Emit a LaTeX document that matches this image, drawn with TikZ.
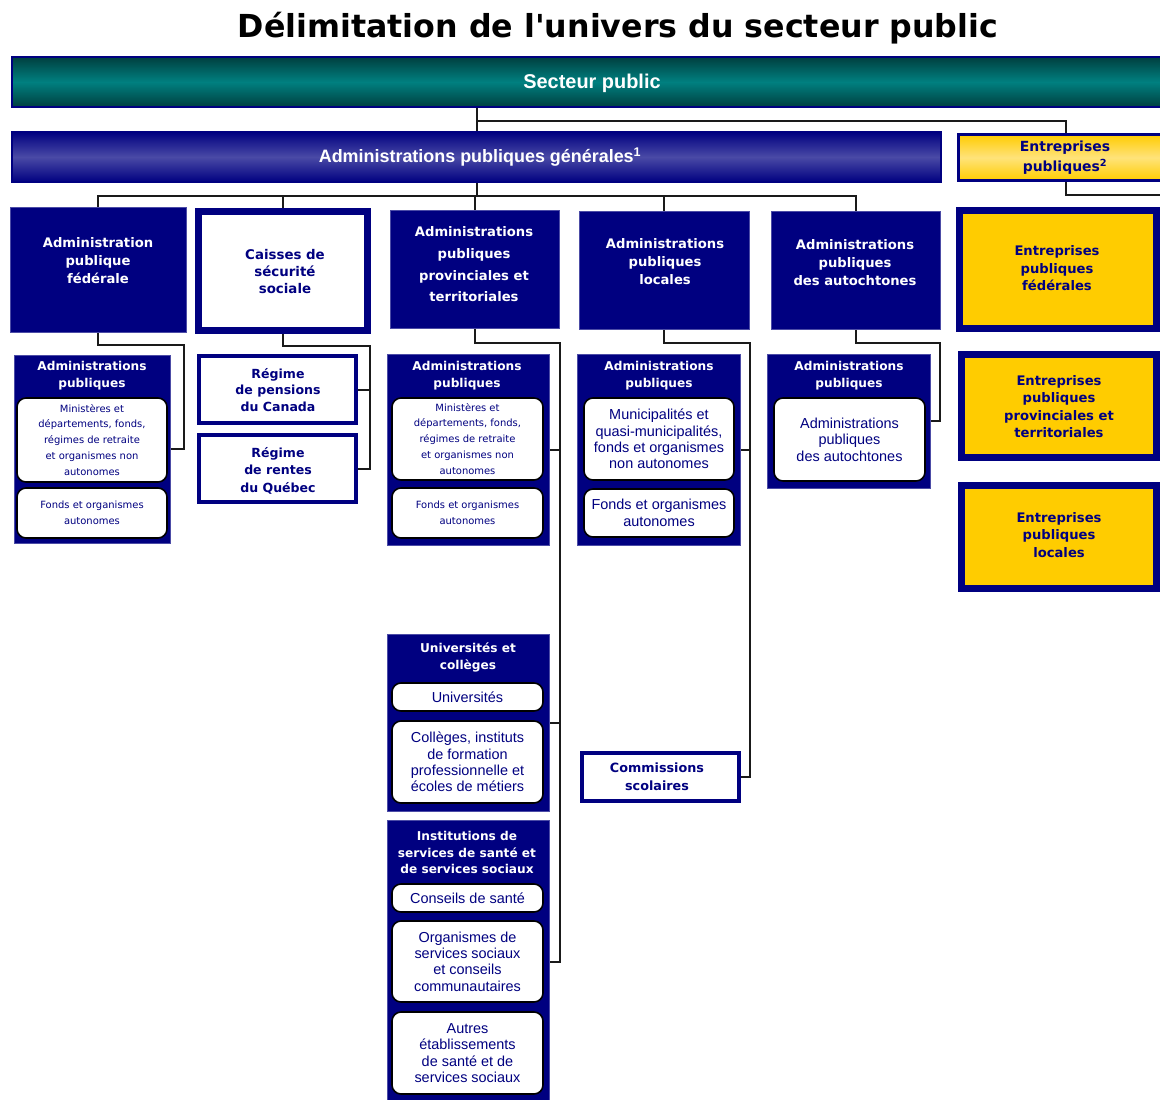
\documentclass[tikz,border=0pt]{standalone}
\usepackage{fontspec}
\setmainfont{Liberation Sans}
\newfontfamily\verd{DejaVu Sans}
\usetikzlibrary{calc,backgrounds}

\definecolor{apnavy}{HTML}{000080}
\definecolor{apteal}{HTML}{008080}
\definecolor{apdeep}{HTML}{003F3F}
\definecolor{apviolet}{HTML}{4A4AA6}
\definecolor{apgold}{HTML}{FFCC00}
\definecolor{aplight}{HTML}{FFE37A}
\definecolor{aprule}{HTML}{1A1A1A}

\tikzset{
  sz/.style 2 args={minimum width=#1bp, minimum height=#2bp, inner sep=0pt},
  bar/.style={draw=apnavy, line width=2bp},
  navybox/.style={draw=apnavy!70!white, line width=0.8bp, fill=apnavy},
  whitebox/.style={draw=apnavy, fill=white},
  goldbox/.style={draw=apnavy, line width=7bp, fill=apgold},
  inbox/.style={draw=black, line width=1.6bp, fill=white, rounded corners=9bp,
    text=apnavy, align=center, inner sep=0pt},
  titre/.style={font=\verd\bfseries\fontsize{31.8}{36}\selectfont},
  bartext/.style={text=white, font=\bfseries\fontsize{18}{22}\selectfont},
  lvtxt/.style={text=white, align=center, font=\verd\bfseries\fontsize{13.2}{18}\selectfont},
  subtxt/.style={text=white, align=center, font=\verd\bfseries\fontsize{12.2}{17}\selectfont},
  nvtxt/.style={text=apnavy, align=center, font=\verd\bfseries\fontsize{13.2}{17.5}\selectfont},
  petit/.style={font=\verd\fontsize{10}{16}\selectfont},
  arialtxt/.style={font=\fontsize{14.5}{16.5}\selectfont},
  conn/.style={draw=aprule, line width=2bp}
}

\begin{document}
\begin{tikzpicture}[x=1bp,y=-1bp]
\useasboundingbox (0,0) rectangle (1160,1100);
\clip (0,0) rectangle (1160,1100);

\node[titre] (titre) at (618,28) {Délimitation de l\textquotesingle univers du secteur public};

% bandeaux du haut
\node[bar, sz={1163}{50}, top color=apdeep, bottom color=apdeep, middle color=apteal] (secteur) at (593.5,82) {};
\node[bartext, font=\bfseries\fontsize{20}{24}\selectfont] (secteurt) at (592,83) {Secteur public};
\node[bar, sz={929}{50}, top color=apnavy, bottom color=apnavy, middle color=apviolet] (apg) at (476.5,157) {};
\node[bartext] (apgt) at (480,157) {Administrations publiques générales\textsuperscript{1}};
\node[draw=apnavy, line width=3bp, sz={215}{46}, top color=apgold, bottom color=apgold, middle color=aplight] (ep) at (1066,157.5) {};
\node[nvtxt, font=\verd\bfseries\fontsize{14}{20}\selectfont] (ept) at (1065,157.5) {Entreprises\\publiques\textsuperscript{2}};

% deuxieme niveau
\node[navybox, sz={176}{125}] (fed) at (98,269.5) {};
\node[lvtxt] (fedt) at (98,261) {Administration\\publique\\fédérale};
\node[whitebox, line width=7bp, sz={169}{119}] (cad) at (283,271) {};
\node[nvtxt, font=\verd\bfseries\fontsize{13.4}{17.5}\selectfont] (cadt) at (285,271.5) {Caisses de\\sécurité\\sociale};
\node[navybox, sz={169}{118}] (prov) at (474.5,269) {};
\node[lvtxt, font=\verd\bfseries\fontsize{13.2}{21.7}\selectfont] (provt) at (474,264.5) {Administrations\\publiques\\provinciales et\\territoriales};
\node[navybox, sz={170}{118}] (loc) at (664,270) {};
\node[lvtxt] (loct) at (665,262) {Administrations\\publiques\\locales};
\node[navybox, sz={169}{118}] (aut) at (855.5,270) {};
\node[lvtxt] (autt) at (855,262.5) {Administrations\\publiques\\des autochtones};

% entreprises publiques
\node[goldbox, sz={197}{118}] (entfed) at (1058,269.5) {};
\node[nvtxt] (entfedt) at (1057,268.5) {Entreprises\\publiques\\fédérales};
\node[goldbox, sz={195}{103}] (entprov) at (1059,406) {};
\node[nvtxt] (entprovt) at (1059,406.5) {Entreprises\\publiques\\provinciales et\\territoriales};
\node[goldbox, sz={195}{103}] (entloc) at (1059,537) {};
\node[nvtxt] (entloct) at (1059,535) {Entreprises\\publiques\\locales};

% federal
\node[navybox, sz={156}{188}] (fedsub) at (92,449) {};
\node[subtxt] (fedsubt) at (92,375.5) {Administrations\\publiques};
\node[inbox, petit, sz={150}{84}] (fedmin) at (92,440) {Ministères et\\départements, fonds,\\régimes de retraite\\et organismes non\\autonomes};
\node[inbox, petit, sz={150}{50}] (fedfonds) at (92,513) {Fonds et organismes\\autonomes};

% caisses
\node[whitebox, line width=4bp, sz={157}{67}] (pen) at (277.5,389.5) {};
\node[nvtxt, font=\verd\bfseries\fontsize{12.6}{17}\selectfont] (pent) at (278,390) {Régime\\de pensions\\du Canada};
\node[whitebox, line width=4bp, sz={157}{67}] (ren) at (277.5,468.5) {};
\node[nvtxt, font=\verd\bfseries\fontsize{12.6}{17.5}\selectfont] (rent) at (278,470.5) {Régime\\de rentes\\du Québec};

% provinciales
\node[navybox, sz={162}{191}] (provsub) at (468,449.5) {};
\node[subtxt] (provsubt) at (467,376) {Administrations\\publiques};
\node[inbox, petit, sz={151}{82}] (provmin) at (467.5,439) {Ministères et\\départements, fonds,\\régimes de retraite\\et organismes non\\autonomes};
\node[inbox, petit, sz={151}{50}] (provfonds) at (467.5,513) {Fonds et organismes\\autonomes};

\node[navybox, sz={162}{177}] (univ) at (468,722.5) {};
\node[subtxt] (univt) at (468,657.5) {Universités et\\collèges};
\node[inbox, arialtxt, sz={151}{28}] (univu) at (467.5,697) {Universités};
\node[inbox, arialtxt, sz={151}{82}] (univc) at (467.5,762) {Collèges, instituts\\de formation\\professionnelle et\\écoles de métiers};

\node[navybox, sz={162}{284}] (inst) at (468,962) {};
\node[subtxt] (instt) at (467,852.5) {Institutions de\\services de santé et\\de services sociaux};
\node[inbox, arialtxt, sz={151}{28}] (instc) at (467.5,898) {Conseils de santé};
\node[inbox, arialtxt, sz={151}{81}] (insto) at (467.5,961.5) {Organismes de\\services sociaux\\et conseils\\communautaires};
\node[inbox, arialtxt, sz={151}{82}] (insta) at (467.5,1053) {Autres\\établissements\\de santé et de\\services sociaux};

% locales
\node[navybox, sz={163}{191}] (locsub) at (658.5,449.5) {};
\node[subtxt] (locsubt) at (659,376) {Administrations\\publiques};
\node[inbox, arialtxt, sz={150}{82}] (locmun) at (659,439) {Municipalités et\\quasi-municipalités,\\fonds et organismes\\non autonomes};
\node[inbox, arialtxt, sz={150}{48}] (locfonds) at (659,513) {Fonds et organismes\\autonomes};
\node[whitebox, line width=4bp, sz={157}{48}] (com) at (660.5,777) {};
\node[nvtxt, font=\verd\bfseries\fontsize{12.8}{18}\selectfont] (comt) at (657,777) {Commissions\\scolaires};

% autochtones
\node[navybox, sz={163}{134}] (autsub) at (848.5,421) {};
\node[subtxt] (autsubt) at (849,376) {Administrations\\publiques};
\node[inbox, arialtxt, sz={151}{83}] (autadm) at (849.5,439.5) {Administrations\\publiques\\des autochtones};

\coordinate (epout) at (1165,195);

% liens
\begin{scope}[on background layer]
  \draw[conn] (secteur.south -| apg.north) -- (apg.north);
  \draw[conn] (secteur.south -| apg.north) ++(0,13) -| (ep.north);
  \draw[conn] (ep.south) |- (epout);
  \draw[conn] (apg.south) -- ++(0,13) coordinate (bus);
  \draw[conn] (fed.north) |- (aut.north |- bus) -- (aut.north);
  \draw[conn] (cad.north) -- (cad.north |- bus);
  \draw[conn] (prov.north) -- (prov.north |- bus);
  \draw[conn] (loc.north) -- (loc.north |- bus);

  \draw[conn] (fed.south) -- ++(0,13) -| ($(fedsub.east)+(14,0)$) -- (fedsub.east);
  \draw[conn] (cad.south) -- ++(0,12) -| ($(ren.east)+(12,0)$) -- (ren.east);
  \draw[conn] (pen.east) -- ++(12,0);
  \draw[conn] (prov.south) -- ++(0,15) -| ($(inst.east)+(11,0)$) -- (inst.east);
  \draw[conn] (provsub.east) -- ++(11,0);
  \draw[conn] (univ.east) -- ++(11,0);
  \draw[conn] (loc.south) -- ++(0,14) -| ($(com.east)+(9,0)$) -- (com.east);
  \draw[conn] (locsub.east) -- ++(10,0);
  \draw[conn] (aut.south) -- ++(0,14) -| ($(autsub.east)+(10,0)$) -- (autsub.east);
\end{scope}
\end{tikzpicture}
\end{document}
